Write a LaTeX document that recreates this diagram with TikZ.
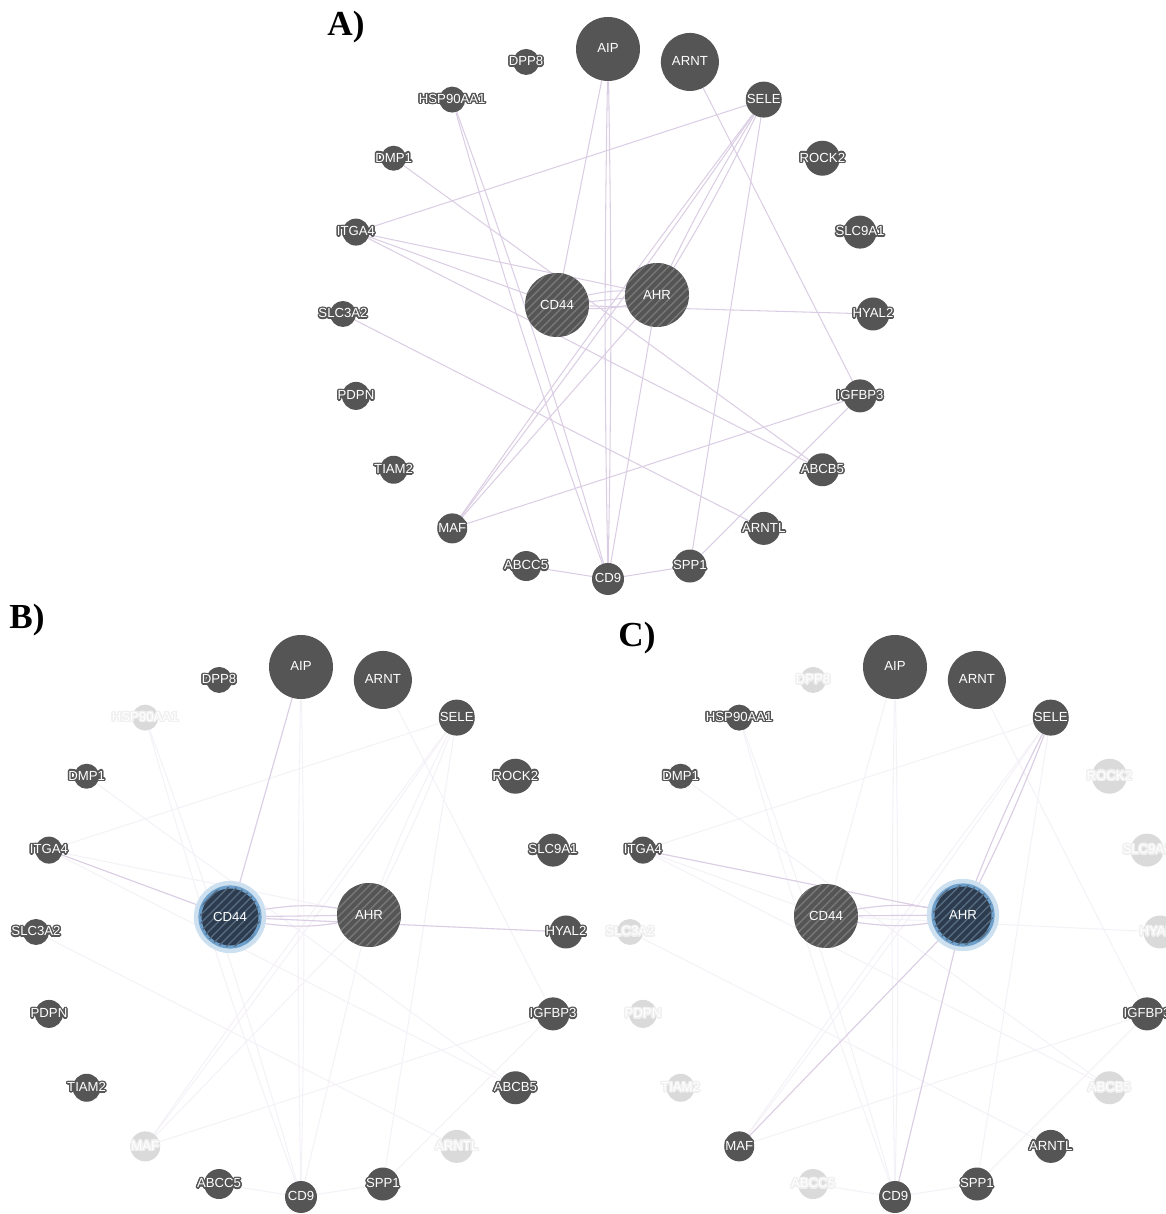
\documentclass[tikz,border=0pt]{standalone}
\usepackage{fontspec}
\setmainfont{Liberation Serif}
\newfontfamily\genefont{Liberation Sans}
\usepackage[copies]{contour}
\contourlength{0.8pt}
\usetikzlibrary{patterns.meta}

\definecolor{nodegray}{RGB}{85,85,85}
\definecolor{fadegray}{RGB}{218,218,218}
\definecolor{fadehalo}{RGB}{240,240,240}
\definecolor{hatchgray}{RGB}{120,120,120}
\definecolor{linkpurple}{RGB}{219,206,228}
\definecolor{linkfaint}{RGB}{244,241,247}
\definecolor{pickfill}{RGB}{44,59,77}
\definecolor{pickring}{RGB}{110,160,204}
\definecolor{pickglow}{RGB}{205,224,240}
\definecolor{pickhatch}{RGB}{86,106,128}
\colorlet{halo}{nodegray}
\newcommand{\halo}[1]{\makebox[0pt]{\contour{halo}{#1}}}

\pgfdeclarelayer{links}
\pgfsetlayers{links,main}

% angle / gene / diameter (px) on the outer ring
\newcommand{\genering}{90/AIP/64, 72/ARNT/58, 54/SELE/36, 36/ROCK2/35,
  18/SLC9A1/33, 0/HYAL2/33, -18/IGFBP3/33, -36/ABCB5/33, -54/ARNTL/33,
  -72/SPP1/33, -90/CD9/32, -108/ABCC5/30, -126/MAF/30, -144/TIAM2/28,
  -162/PDPN/28, 180/SLC3A2/26, 162/ITGA4/27, 144/DMP1/25,
  126/HSP90AA1/26, 108/DPP8/26}
% gene / gene / bend
\newcommand{\genelinks}{ITGA4/SELE/0, ITGA4/AHR/0, ITGA4/CD44/0,
  ITGA4/ABCB5/0, DMP1/ABCB5/0, HSP90AA1/CD9/2, HSP90AA1/CD9/-2,
  AIP/CD44/0, AIP/CD9/1, AIP/CD9/-1, ARNT/IGFBP3/0, SELE/AHR/3,
  SELE/AHR/-3, SELE/MAF/1, SELE/MAF/-1, SELE/SPP1/0, CD44/AHR/12,
  CD44/AHR/0, CD44/AHR/-12, CD44/HYAL2/0, SLC3A2/ARNTL/0, MAF/IGFBP3/0,
  IGFBP3/SPP1/0, ABCC5/CD9/0, CD9/SPP1/0, AHR/MAF/0, AHR/CD9/0}

\tikzset{
  gene/.style={circle, fill=nodegray, inner sep=0pt, text=white,
    font={\genefont\fontsize{7.5}{8}\selectfont},
    execute at begin node={\colorlet{halo}{nodegray}}},
  faded/.style={fill=fadegray,
    execute at begin node={\colorlet{halo}{fadehalo}}},
  hub/.style={gene, minimum size=64*0.02cm,
    postaction={pattern={Lines[angle=45, distance=3.3pt, line width=0.8pt]},
      pattern color=#1}},
  hub/.default=hatchgray,
  picked/.style={fill=pickfill, draw=pickring, line width=1.8pt,
    minimum size=60*0.02cm, preaction={draw=pickglow, line width=7pt}},
  link/.style={draw=linkpurple, line width=0.6pt},
  faintlink/.style={draw=linkfaint, line width=0.6pt},
  panel/.style={font={\bfseries\fontsize{20}{20}\selectfont}}
}

\begin{document}
\begin{tikzpicture}[x=0.02cm, y=0.02cm]
  \useasboundingbox (0,0) rectangle (1166,1214);

  % A) whole network
  \node[panel] (labA) at (346,1187) {A)};
  \begin{scope}[shift={(608,900)}, name prefix=a-]
    \foreach \ang/\n/\sz in \genering
      \node[gene, minimum size=\sz*0.02cm, fade \n/.try] (\n) at (\ang:265) {\halo{\n}};
    \node[hub] (CD44) at (-51,9) {CD44};
    \node[hub] (AHR) at (49,19) {AHR};
    \begin{pgfonlayer}{links}
      \foreach \ga/\gb/\bnd in \genelinks
        \draw[link] (\ga) to[bend left=\bnd] (\gb);
    \end{pgfonlayer}
  \end{scope}

  % B) CD44 selected
  \node[panel] (labB) at (27,594) {B)};
  \begin{scope}[shift={(301,282)}, name prefix=b-,
      fade HSP90AA1/.style=faded, fade MAF/.style=faded, fade ARNTL/.style=faded]
    \foreach \ang/\n/\sz in \genering
      \node[gene, minimum size=\sz*0.02cm, fade \n/.try] (\n) at (\ang:265) {\halo{\n}};
    \node[hub=pickhatch, picked] (CD44) at (-71,15) {CD44};
    \node[hub] (AHR) at (68,17) {AHR};
    \begin{pgfonlayer}{links}
      \foreach \ga/\gb/\bnd in \genelinks
        \draw[faintlink] (\ga) to[bend left=\bnd] (\gb);
      \foreach \ga/\gb/\bnd in {AIP/CD44/0, ITGA4/CD44/0, CD44/AHR/12,
          CD44/AHR/0, CD44/AHR/-12, CD44/HYAL2/0}
        \draw[link] (\ga) to[bend left=\bnd] (\gb);
    \end{pgfonlayer}
  \end{scope}

  % C) AHR selected
  \node[panel] (labC) at (637,576) {C)};
  \begin{scope}[shift={(895,282)}, name prefix=c-,
      fade DPP8/.style=faded, fade ROCK2/.style=faded, fade SLC9A1/.style=faded,
      fade HYAL2/.style=faded, fade SLC3A2/.style=faded, fade PDPN/.style=faded,
      fade TIAM2/.style=faded, fade ABCB5/.style=faded, fade ABCC5/.style=faded]
    \foreach \ang/\n/\sz in \genering
      \node[gene, minimum size=\sz*0.02cm, fade \n/.try] (\n) at (\ang:265) {\halo{\n}};
    \node[hub] (CD44) at (-69,16) {CD44};
    \node[hub=pickhatch, picked] (AHR) at (68,17) {AHR};
    \begin{pgfonlayer}{links}
      \foreach \ga/\gb/\bnd in \genelinks
        \draw[faintlink] (\ga) to[bend left=\bnd] (\gb);
      \foreach \ga/\gb/\bnd in {ITGA4/AHR/0, CD44/AHR/12, CD44/AHR/0,
          CD44/AHR/-12, SELE/AHR/3, SELE/AHR/-3, AHR/MAF/0, AHR/CD9/0}
        \draw[link] (\ga) to[bend left=\bnd] (\gb);
    \end{pgfonlayer}
  \end{scope}
\end{tikzpicture}
\end{document}
